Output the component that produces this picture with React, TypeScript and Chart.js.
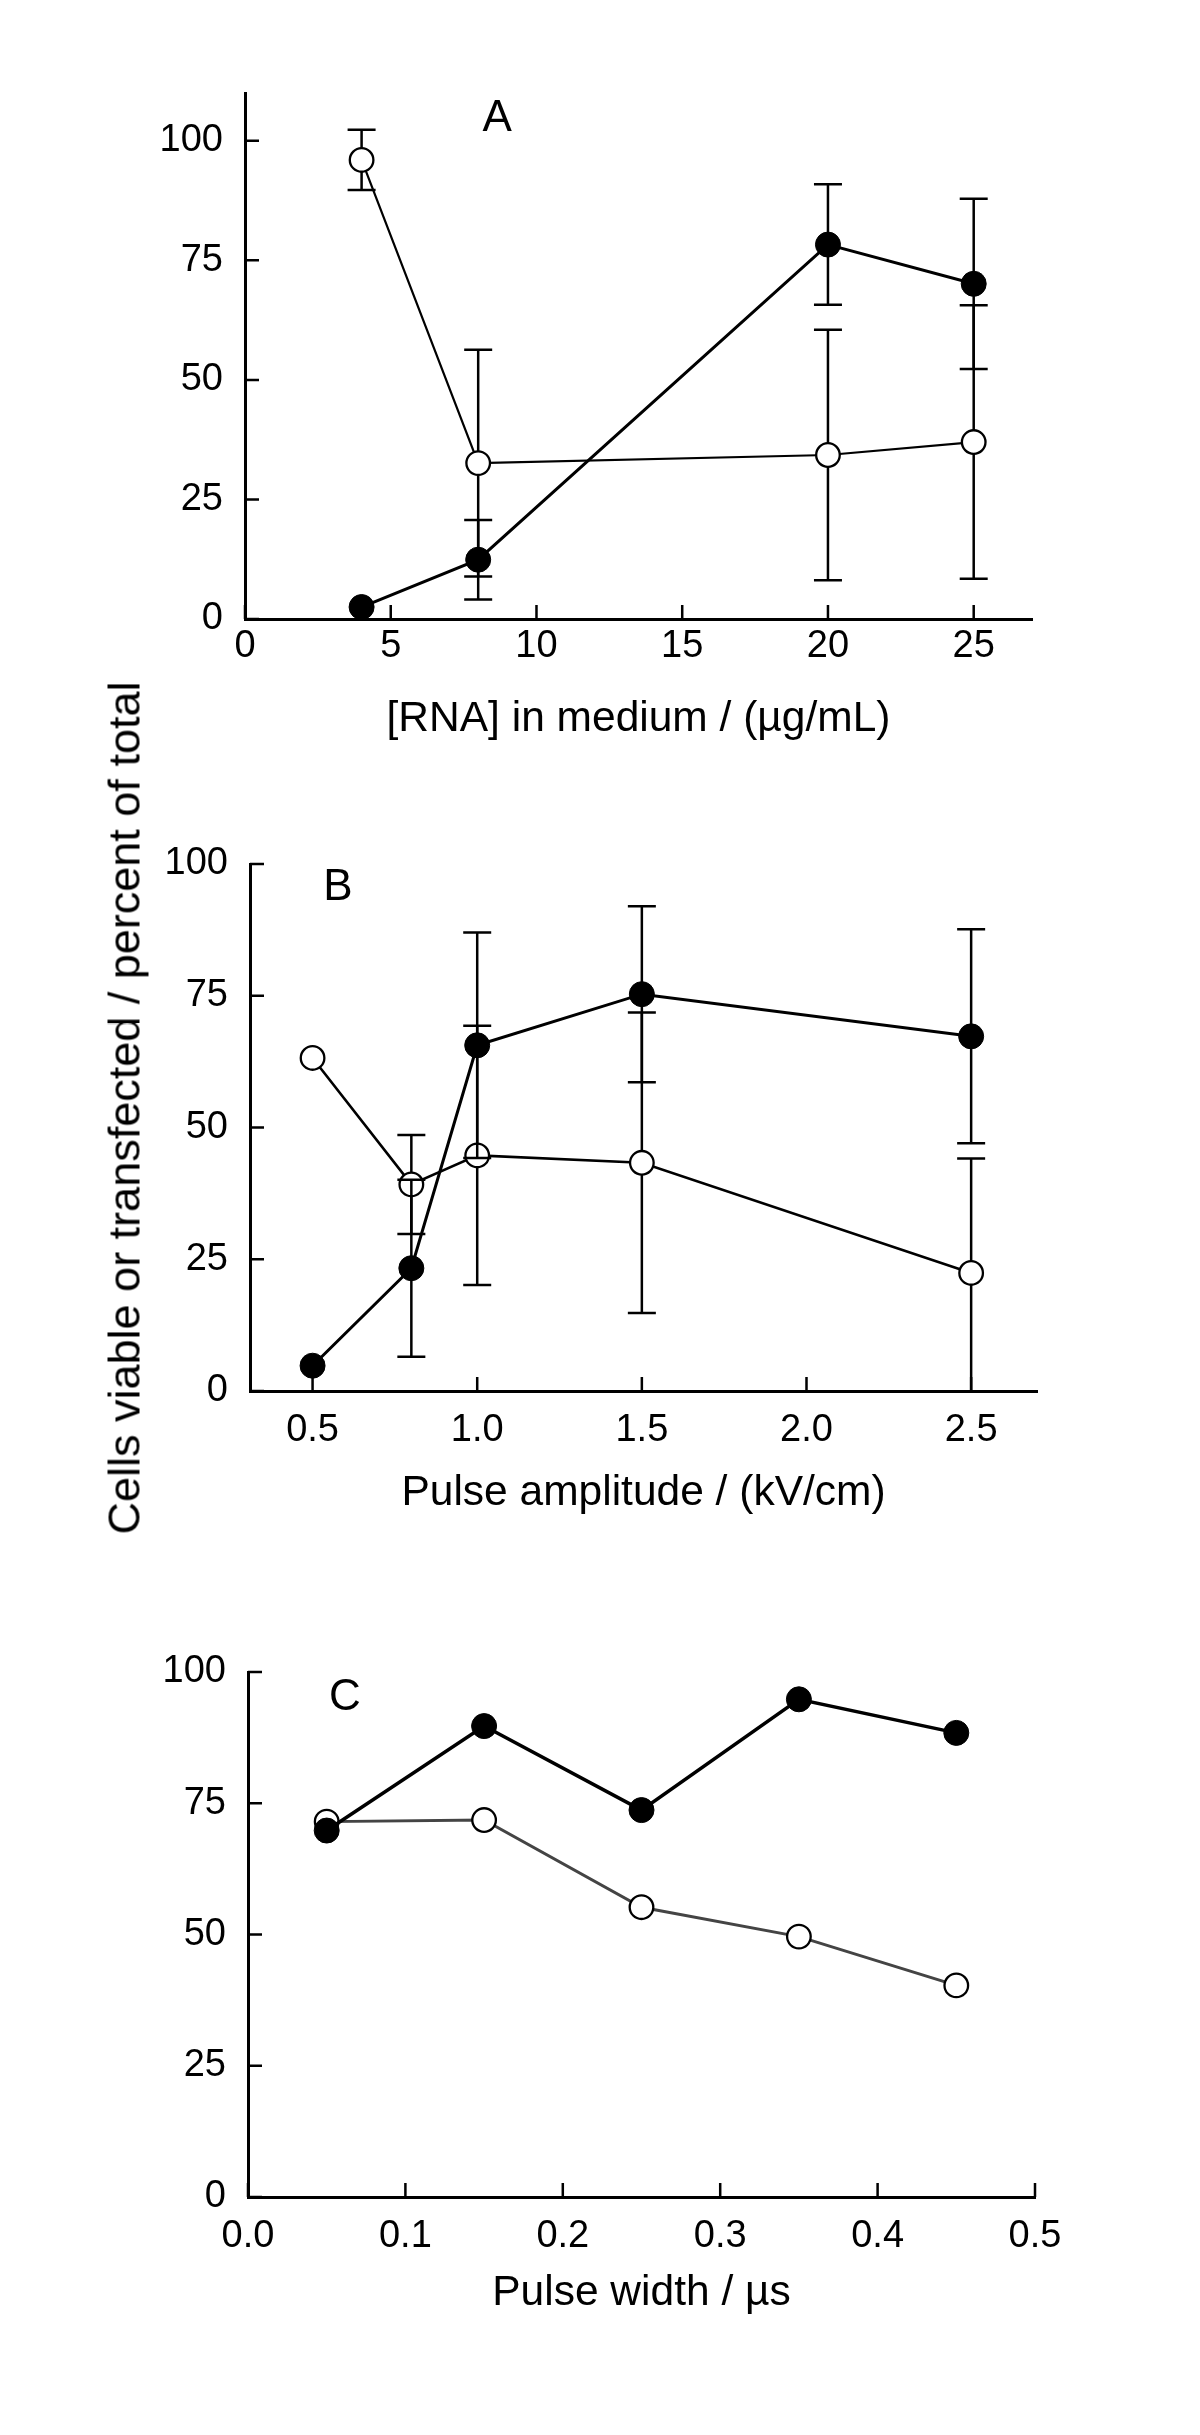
import React, { useEffect, useRef } from "react";
import { Chart, registerables } from "chart.js";

Chart.register(...registerables);

// ---------- Panel A: RNA concentration ----------
const rnaConc = [4, 8, 20, 25];
const rnaTransfected = [2.5, 12.4, 78.3, 70.1];
const rnaTransfectedErr = [0, 8.3, 12.6, 17.8];
const rnaViable = [96.0, 32.6, 34.3, 37.0];
const rnaViableErr = [6.3, 23.7, 26.2, 28.6];
const rnaXTicks = [0, 5, 10, 15, 20, 25];

// ---------- Panel B: pulse amplitude ----------
const amplitude = [0.5, 0.8, 1.0, 1.5, 2.5];
const ampTransfected = [4.8, 23.3, 65.6, 75.3, 67.3];
const ampTransfectedErr = [0, 16.8, 21.4, 16.7, 20.3];
const ampViable = [63.2, 39.2, 44.7, 43.3, 22.4];
const ampViableErrUp = [0, 9.4, 24.6, 28.5, 21.7];
const ampViableErrDown = [0, 9.4, 24.6, 28.5, 23.5];
const ampXTicks = [0.5, 1.0, 1.5, 2.0, 2.5];

// ---------- Panel C: pulse width ----------
const pulseWidth = [0.05, 0.15, 0.25, 0.35, 0.45];
const widthTransfected = [69.8, 89.7, 73.7, 94.8, 88.4];
const widthViable = [71.5, 71.8, 55.2, 49.6, 40.3];
const widthXTicks = [0, 0.1, 0.2, 0.3, 0.4, 0.5];

const percentTicks = [0, 25, 50, 75, 100];

const FONT = "'Liberation Sans', Arial, Helvetica, sans-serif";

const pts = (xs: number[], ys: number[]) => xs.map((x, i) => ({ x, y: ys[i] }));

const errorBarPlugin = {
  id: "errorBars",
  beforeDatasetDraw(chart: any, args: any) {
    const ds = chart.data.datasets[args.index];
    if (!ds.errUp) return;
    const { ctx, chartArea, scales } = chart;
    const xs = scales.x;
    const ys = scales.y;
    const cap = 14;
    ctx.save();
    ctx.beginPath();
    ctx.rect(chartArea.left - 30, chartArea.top - 30, chartArea.right - chartArea.left + 60, chartArea.bottom - chartArea.top + 30);
    ctx.clip();
    ctx.strokeStyle = "#000";
    ctx.lineWidth = 2.5;
    ds.data.forEach((p: any, i: number) => {
      const up = ds.errUp[i];
      const dn = ds.errDown[i];
      if (!up && !dn) return;
      const px = xs.getPixelForValue(p.x);
      const yTop = ys.getPixelForValue(p.y + up);
      const yBot = ys.getPixelForValue(p.y - dn);
      ctx.beginPath();
      ctx.moveTo(px, yTop);
      ctx.lineTo(px, yBot);
      ctx.moveTo(px - cap, yTop);
      ctx.lineTo(px + cap, yTop);
      ctx.moveTo(px - cap, yBot);
      ctx.lineTo(px + cap, yBot);
      ctx.stroke();
    });
    ctx.restore();
  },
};

const decorPlugin = {
  id: "decor",
  beforeDatasetsDraw(chart: any) {
    const { ctx, chartArea, scales } = chart;
    const len = 14;
    ctx.save();
    ctx.strokeStyle = "#000";
    ctx.lineWidth = 2.5;
    ctx.beginPath();
    scales.x.ticks.forEach((t: any) => {
      const px = scales.x.getPixelForValue(t.value);
      ctx.moveTo(px, chartArea.bottom);
      ctx.lineTo(px, chartArea.bottom - len);
    });
    scales.y.ticks.forEach((t: any) => {
      const py = scales.y.getPixelForValue(t.value);
      ctx.moveTo(chartArea.left, py);
      ctx.lineTo(chartArea.left + len, py);
    });
    ctx.stroke();
    ctx.restore();
  },
  afterDraw(chart: any) {
    const opt = chart.options.plugins.decor;
    if (!opt || !opt.letter) return;
    const { ctx, scales } = chart;
    ctx.save();
    ctx.fillStyle = "#000";
    ctx.font = `44px ${FONT}`;
    ctx.textAlign = "center";
    ctx.textBaseline = "middle";
    ctx.fillText(opt.letter, scales.x.getPixelForValue(opt.letterX), scales.y.getPixelForValue(opt.letterY));
    ctx.restore();
  },
};

type Panel = {
  top: number;
  height: number;
  area: { left: number; right: number; top: number; bottom: number };
  xMin: number;
  xMax: number;
  yMax: number;
  xTicks: number[];
  xDecimals: number;
  xTickPad: number;
  titlePad: number;
  title: string;
  letter: string;
  letterX: number;
  letterY: number;
  datasets: any[];
};

const filledStyle = (lw: number) => ({
  borderColor: "#000",
  backgroundColor: "#000",
  pointBackgroundColor: "#000",
  pointBorderColor: "#000",
  pointBorderWidth: 1,
  pointRadius: 12.5,
  borderWidth: lw,
  showLine: true,
  clip: false,
});
const openStyle = (lw: number, color: string) => ({
  borderColor: color,
  backgroundColor: "#fff",
  pointBackgroundColor: "#fff",
  pointBorderColor: "#000",
  pointBorderWidth: 2.3,
  pointRadius: 11.8,
  borderWidth: lw,
  showLine: true,
  clip: false,
});

const panels: Panel[] = [
  {
    top: 0,
    height: 780,
    area: { left: 245, right: 1032, top: 93, bottom: 619 },
    xMin: 0,
    xMax: 27,
    yMax: 110,
    xTicks: rnaXTicks,
    xDecimals: 0,
    xTickPad: 5,
    titlePad: 35,
    title: "[RNA] in medium / (µg/mL)",
    letter: "A",
    letterX: 8.65,
    letterY: 104.5,
    datasets: [
      { label: "Transfected", data: pts(rnaConc, rnaTransfected), errUp: rnaTransfectedErr, errDown: rnaTransfectedErr, ...filledStyle(3) },
      { label: "Viable", data: pts(rnaConc, rnaViable), errUp: rnaViableErr, errDown: rnaViableErr, ...openStyle(2.2, "#000") },
    ],
  },
  {
    top: 800,
    height: 780,
    area: { left: 250, right: 1037, top: 64, bottom: 591 },
    xMin: 0.31,
    xMax: 2.7,
    yMax: 100,
    xTicks: ampXTicks,
    xDecimals: 1,
    xTickPad: 17,
    titlePad: 61,
    title: "Pulse amplitude / (kV/cm)",
    letter: "B",
    letterX: 0.577,
    letterY: 95.4,
    datasets: [
      { label: "Transfected", data: pts(amplitude, ampTransfected), errUp: ampTransfectedErr, errDown: ampTransfectedErr, ...filledStyle(3) },
      { label: "Viable", data: pts(amplitude, ampViable), errUp: ampViableErrUp, errDown: ampViableErrDown, ...openStyle(2.6, "#000") },
    ],
  },
  {
    top: 1600,
    height: 800,
    area: { left: 248, right: 1035, top: 72, bottom: 597 },
    xMin: 0,
    xMax: 0.5,
    yMax: 100,
    xTicks: widthXTicks,
    xDecimals: 1,
    xTickPad: 17,
    titlePad: 81,
    title: "Pulse width / µs",
    letter: "C",
    letterX: 0.0616,
    letterY: 95,
    datasets: [
      { label: "Transfected", data: pts(pulseWidth, widthTransfected), ...filledStyle(3.5) },
      { label: "Viable", data: pts(pulseWidth, widthViable), ...openStyle(3, "#444") },
    ],
  },
];

function PanelChart({ p }: { p: Panel }) {
  const ref = useRef<HTMLCanvasElement | null>(null);
  useEffect(() => {
    if (!ref.current) return;
    const H = p.height;
    const chart = new Chart(ref.current, {
      type: "scatter",
      data: { datasets: p.datasets },
      plugins: [errorBarPlugin, decorPlugin],
      options: {
        animation: false,
        responsive: false,
        maintainAspectRatio: false,
        devicePixelRatio: 1,
        layout: { padding: { left: 0, top: p.area.top, right: 1200 - p.area.right, bottom: 0 } },
        plugins: {
          legend: { display: false },
          tooltip: { enabled: false },
          decor: { letter: p.letter, letterX: p.letterX, letterY: p.letterY },
        } as any,
        scales: {
          x: {
            type: "linear",
            min: p.xMin,
            max: p.xMax,
            afterBuildTicks: (s: any) => {
              s.ticks = p.xTicks.map((v) => ({ value: v }));
            },
            afterFit: (s: any) => {
              s.height = H - p.area.bottom;
            },
            grid: { display: false, drawTicks: false },
            border: { display: true, color: "#000", width: 3 },
            ticks: {
              color: "#000",
              font: { family: FONT, size: 38 },
              padding: p.xTickPad,
              maxRotation: 0,
              autoSkip: false,
              callback: (v: any) => Number(v).toFixed(p.xDecimals),
            },
            title: {
              display: true,
              text: p.title,
              color: "#000",
              font: { family: FONT, size: 42.5 },
              padding: { top: 0, bottom: p.titlePad },
            },
          },
          y: {
            type: "linear",
            min: 0,
            max: p.yMax,
            afterBuildTicks: (s: any) => {
              s.ticks = percentTicks.map((v) => ({ value: v }));
            },
            afterFit: (s: any) => {
              s.width = p.area.left;
            },
            grid: { display: false, drawTicks: false },
            border: { display: true, color: "#000", width: 3 },
            ticks: {
              color: "#000",
              font: { family: FONT, size: 38 },
              padding: 22,
              autoSkip: false,
              callback: (v: any) => String(v),
            },
          },
        },
      } as any,
    });
    return () => chart.destroy();
  }, [p]);
  return (
    <canvas
      ref={ref}
      width={1200}
      height={p.height}
      style={{ position: "absolute", left: 0, top: p.top, width: 1200, height: p.height }}
    />
  );
}

export default function App() {
  return (
    <div style={{ position: "absolute", left: 0, top: 0, width: 1200, height: 2435, overflow: "hidden", background: "#fff" }}>
      {panels.map((p, i) => (
        <PanelChart key={i} p={p} />
      ))}
      <div
        style={{
          position: "absolute",
          left: 124,
          top: 1108,
          transform: "translate(-50%, -50%) rotate(-90deg)",
          whiteSpace: "nowrap",
          fontFamily: FONT,
          fontSize: 45,
          lineHeight: 1,
          color: "#000",
        }}
      >
        Cells viable or transfected / percent of total
      </div>
    </div>
  );
}
